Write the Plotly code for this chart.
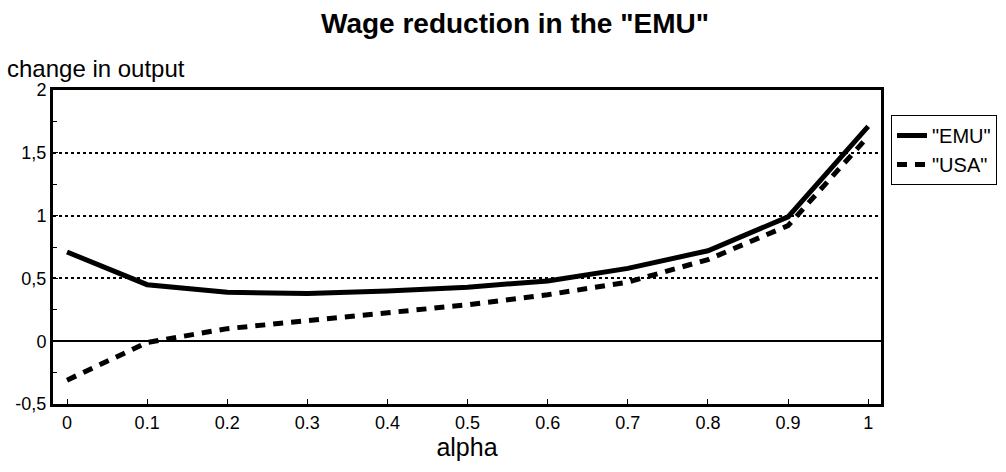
import plotly.graph_objects as go

alpha = [0, 0.1, 0.2, 0.3, 0.4, 0.5, 0.6, 0.7, 0.8, 0.9, 1.0]
emu = [0.71, 0.45, 0.39, 0.38, 0.40, 0.43, 0.48, 0.58, 0.72, 0.99, 1.71]
usa = [-0.31, -0.01, 0.10, 0.16, 0.23, 0.29, 0.37, 0.47, 0.65, 0.92, 1.63]

x_ticks = [0, 0.1, 0.2, 0.3, 0.4, 0.5, 0.6, 0.7, 0.8, 0.9, 1]
x_ticklabels = ["0", "0.1", "0.2", "0.3", "0.4", "0.5", "0.6", "0.7", "0.8", "0.9", "1"]
y_ticks = [-0.5, 0, 0.5, 1, 1.5, 2]
y_ticklabels = ["-0,5", "0", "0,5", "1", "1,5", "2"]

FONT = "Liberation Sans, Arial, sans-serif"

fig = go.Figure()
fig.add_trace(go.Scatter(x=alpha, y=emu, mode="lines", name='"EMU"',
                         line=dict(color="black", width=5)))
fig.add_trace(go.Scatter(x=alpha, y=usa, mode="lines", name='"USA"',
                         line=dict(color="black", width=5, dash="10px,8px")))

L, R, T, B = 53, 881, 90, 404
W, H = 1006, 472

def px(xp):
    return (xp - L) / (R - L)

def py(yp):
    return (B - yp) / (B - T)

fig.update_layout(
    width=W, height=H,
    margin=dict(l=L, r=W - R, t=T, b=H - B, autoexpand=False),
    plot_bgcolor="white", paper_bgcolor="white",
    font=dict(family=FONT, color="black"),
    title=dict(text='<b>Wage reduction in the "EMU"</b>', x=515 / W, xanchor="center",
               y=1 - 23 / H, yanchor="middle", font=dict(size=28, family=FONT)),
    showlegend=True,
    legend=dict(x=px(891), y=py(115), xanchor="left", yanchor="top",
                bordercolor="black", borderwidth=1, bgcolor="white",
                font=dict(size=20, family=FONT), itemwidth=30,
                tracegroupgap=0),
    xaxis=dict(range=[-0.0175, 1.016], tickvals=x_ticks, ticktext=x_ticklabels,
               ticks="inside", ticklen=5, tickcolor="black", tickwidth=1,
               showgrid=False, zeroline=False, automargin=False,
               showline=True, linecolor="black", linewidth=3, mirror=True,
               tickfont=dict(size=18, family=FONT),
               title=dict(text="alpha", font=dict(size=25, family=FONT), standoff=6)),
    yaxis=dict(range=[-0.5, 2], tickvals=y_ticks, ticktext=y_ticklabels,
               ticks="inside", ticklen=5, tickcolor="black", tickwidth=1,
               minor=dict(dtick=0.25, ticks="inside", ticklen=4, tickcolor="black", showgrid=False),
               showgrid=True, gridcolor="black", griddash="dot", gridwidth=1.5,
               zeroline=True, zerolinecolor="black", zerolinewidth=2, automargin=False,
               showline=True, linecolor="black", linewidth=3, mirror=True,
               tickfont=dict(size=18, family=FONT)),
)

fig.add_annotation(text="change in output", xref="paper", yref="paper",
                   x=px(5), y=py(69), xanchor="left", yanchor="middle",
                   showarrow=False, font=dict(size=24, family=FONT))

fig.write_html("out.html", config={"displayModeBar": False},
               post_script="document.body.style.margin='0';document.body.style.overflow='hidden';")
